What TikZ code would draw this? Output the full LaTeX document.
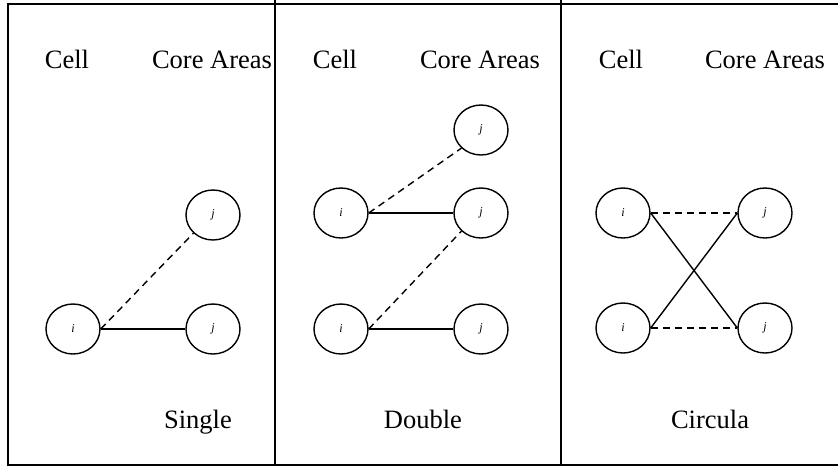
\documentclass[tikz,border=0pt]{standalone}
\usepackage{fontspec}
\setmainfont{Liberation Serif}
\usetikzlibrary{shapes.geometric}
\begin{document}
\begin{tikzpicture}[x=1pt,y=-1pt,
  frame/.style={line width=1.7pt},
  nd/.style={draw,ellipse,line width=1.4pt,minimum width=54pt,minimum height=50pt,inner sep=0pt,font=\fontsize{12}{14}\selectfont\itshape},
  lbl/.style={font=\fontsize{26.5}{30}\selectfont,inner sep=0pt,anchor=base},
  solidln/.style={line width=1.4pt},
  dashln/.style={line width=1.4pt,dash pattern=on 7pt off 5pt}]
\useasboundingbox (0,0) rectangle (838,472);
% frame
\draw[frame] (838,4) -- (8,4) -- (8,465) -- (838,465);
\draw[frame] (275,0) -- (275,464);
\draw[frame] (561,0) -- (561,464);
% headers
\node[lbl] (c1) at (67,68) {Cell};
\node[lbl] (a1) at (212,68) {Core Areas};
\node[lbl] (c2) at (335,68) {Cell};
\node[lbl] (a2) at (480,68) {Core Areas};
\node[lbl] (c3) at (621,68) {Cell};
\node[lbl] (a3) at (765,68) {Core Areas};
% footers
\node[lbl] (s1) at (198,428) {Single};
\node[lbl] (s2) at (423,428) {Double};
\node[lbl] (s3) at (710,428) {Circula};
% panel 1
\node[nd] (i1) at (73,329) {i};
\node[nd] (j1t) at (213,215) {j};
\node[nd] (j1b) at (213,329) {j};
\draw[solidln] (i1.east) -- (j1b.west);
\draw[dashln] (i1.east) -- (j1t.south west);
% panel 2
\node[nd] (i2t) at (341,213) {i};
\node[nd] (j2t) at (481,130) {j};
\node[nd] (j2m) at (481,213) {j};
\node[nd] (i2b) at (341,329) {i};
\node[nd] (j2b) at (481,329) {j};
\draw[solidln] (i2t.east) -- (j2m.west);
\draw[dashln] (i2t.east) -- (j2t.south west);
\draw[solidln] (i2b.east) -- (j2b.west);
\draw[dashln] (i2b.east) -- (j2m.south west);
% panel 3
\node[nd] (i3t) at (623,213) {i};
\node[nd] (j3t) at (765,213) {j};
\node[nd] (i3b) at (623,328) {i};
\node[nd] (j3b) at (765,328) {j};
\draw[dashln] (i3t.east) -- (j3t.west);
\draw[dashln] (i3b.east) -- (j3b.west);
\draw[solidln] (i3t.east) -- (j3b.west);
\draw[solidln] (i3b.east) -- (j3t.west);
\end{tikzpicture}
\end{document}
